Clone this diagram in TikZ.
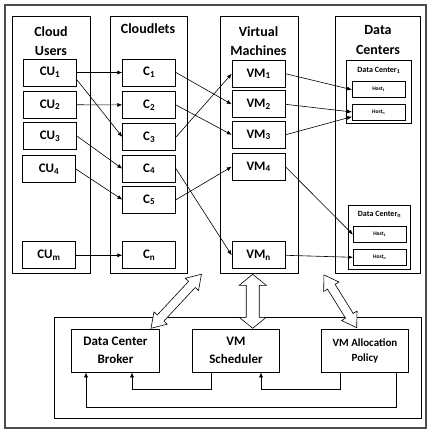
\documentclass[tikz,border=0pt]{standalone}
\usepackage{fontspec}
\setmainfont{Carlito}
\usetikzlibrary{arrows.meta}

\tikzset{
	pics/hollowarrow/.style n args={4}{code={
		\draw[fill=white, line width=0.6pt] (0,0) -- (#4,#3) -- (#4,#2) -- (#1-#4,#2) -- (#1-#4,#3) -- (#1,0)
			-- (#1-#4,-#3) -- (#1-#4,-#2) -- (#4,-#2) -- (#4,-#3) -- cycle;
	}}
}

\begin{document}
\begin{tikzpicture}[x=1pt, y=-1pt, line width=0.7pt,
	col/.style={draw, minimum height=256.6pt, inner sep=0pt},
	title/.style={align=center, inner sep=0pt, font=\fontsize{14}{19.5}\selectfont\bfseries},
	box/.style={draw, minimum width=53pt, minimum height=27pt, inner sep=0pt, font=\fontsize{13}{15}\selectfont\bfseries},
	dcbox/.style={draw, inner sep=0pt},
	dclabel/.style={inner sep=0pt, font=\fontsize{8}{9}\selectfont\bfseries},
	host/.style={draw, minimum width=52.7pt, minimum height=16pt, inner sep=0pt, font=\fontsize{5.5}{6}\selectfont\bfseries},
	mgr/.style={draw, align=center, minimum width=87.5pt, minimum height=43pt, inner sep=0pt, font=\fontsize{13}{17.5}\selectfont\bfseries},
	link/.style={-{Latex[length=5pt, width=4pt]}, line width=0.6pt}]
		\useasboundingbox (0,0) rectangle (431,435);
		\draw[gray!60!black, line width=1.2pt] (5,5) rectangle (426,428);

		\node[col, minimum width=78.4pt] (users) at (51.5,145) {};
		\node[col, minimum width=77.7pt] (cloudlets) at (148.9,145) {};
		\node[col, minimum width=78.3pt] (vms) at (259.2,145) {};
		\node[col, minimum width=85.2pt] (dcs) at (378.1,145) {};

		\node[title] (usersT) at (51,41) {Cloud\\Users};
		\node[title] (cloudletsT) at (148,29) {Cloudlets};
		\node[title] (vmsT) at (258.5,41) {Virtual\\Machines};
		\node[title] (dcsT) at (378,40) {Data\\Centers};

		\node[box] (cu1) at (50,72.5) {CU\textsubscript{1}};
		\node[box] (cu2) at (50,104.7) {CU\textsubscript{2}};
		\node[box] (cu3) at (50,136) {CU\textsubscript{3}};
		\node[box] (cu4) at (49,169) {CU\textsubscript{4}};
		\node[box] (cum) at (49,255.3) {CU\textsubscript{m}};

		\node[box] (c1) at (149.2,72.5) {C\textsubscript{1}};
		\node[box] (c2) at (149.2,105) {C\textsubscript{2}};
		\node[box] (c3) at (149.2,137) {C\textsubscript{3}};
		\node[box] (c4) at (149.2,168.7) {C\textsubscript{4}};
		\node[box] (c5) at (149.2,199.7) {C\textsubscript{5}};
		\node[box] (cn) at (149.2,255.3) {C\textsubscript{n}};

		\node[box] (vm1) at (258.6,73.7) {VM\textsubscript{1}};
		\node[box] (vm2) at (258.6,104.3) {VM\textsubscript{2}};
		\node[box] (vm3) at (258.6,134.8) {VM\textsubscript{3}};
		\node[box] (vm4) at (258.6,166.7) {VM\textsubscript{4}};
		\node[box] (vmn) at (258.6,255.3) {VM\textsubscript{n}};

		\node[dcbox, minimum width=64.3pt, minimum height=63.3pt] (dc1) at (378.9,91.7) {};
		\node[dclabel] (dc1T) at (378.9,70) {Data Center\textsubscript{1}};
		\node[host] (dc1h1) at (378.7,89.7) {Host\textsubscript{1}};
		\node[host] (dc1hn) at (378.7,112) {Host\textsubscript{n}};

		\node[dcbox, minimum width=62.4pt, minimum height=64.3pt] (dcn) at (379.5,237.2) {};
		\node[dclabel] (dcnT) at (379.5,214) {Data Center\textsubscript{n}};
		\node[host] (dcnh1) at (379.7,234.7) {Host\textsubscript{1}};
		\node[host] (dcnhn) at (379.7,257.3) {Host\textsubscript{n}};

		\draw[link] (cu1) -- (c1);
		\draw[link] (cu1.-15) -- (c3.west);
		\draw[link] (cu2) -- (c2);
		\draw[link] (cu3.east) -- (c4.west);
		\draw[link] (cu4.east) -- (c5.west);
		\draw[link] (cum) -- (cn);

		\draw[link] (c1.east) -- (vm2.west);
		\draw[link] (c2.east) -- (vm3.west);
		\draw[link] (c3.east) -- (vm1.west);
		\draw[link] (c4.east) -- (vmn.west);
		\draw[link] (c5.east) -- (vm4.west);

		\draw[link] (vm1.east) -- (dc1h1.west);
		\draw[link] (vm2.east) -- (dc1hn.west);
		\draw[link] (vm3.east) -- (dc1hn.190);
		\draw[link] (vm4.east) -- (dcnh1.west);
		\draw[link] (vmn.east) -- (dcnhn.west);

		\node[draw, minimum width=367pt, minimum height=101pt] (sim) at (237.5,367.5) {};
		\node[mgr] (broker) at (115.5,350.5) {Data Center\\Broker};
		\node[mgr] (sched) at (236,350.5) {VM\\Scheduler};
		\node[mgr, font=\fontsize{11}{15}\selectfont\bfseries] (policy) at (365,350.5) {VM Allocation\\Policy};

		\draw[link, {Latex[length=5pt, width=4pt]}-] ([xshift=16.5pt]broker.south) -- ++(0,17) -| ([xshift=-25pt]sched.south);
		\draw[link, {Latex[length=5pt, width=4pt]}-] ([xshift=25pt]sched.south) -- ++(0,17) -| ([xshift=-25pt]policy.south);
		\draw[link, {Latex[length=5pt, width=4pt]}-] ([xshift=-29.5pt]broker.south) -- ++(0,35) -| ([xshift=31pt]policy.south);

		\pic[rotate=47] at (151,328.3) {hollowarrow={74}{4.5}{9}{14}};
		\pic[rotate=90] at (252.7,328.3) {hollowarrow={54}{6.5}{13.5}{11}};
		\pic[rotate=121.8] at (356.7,327.7) {hollowarrow={62.2}{4.5}{9}{14}};
	\end{tikzpicture}
\end{document}
